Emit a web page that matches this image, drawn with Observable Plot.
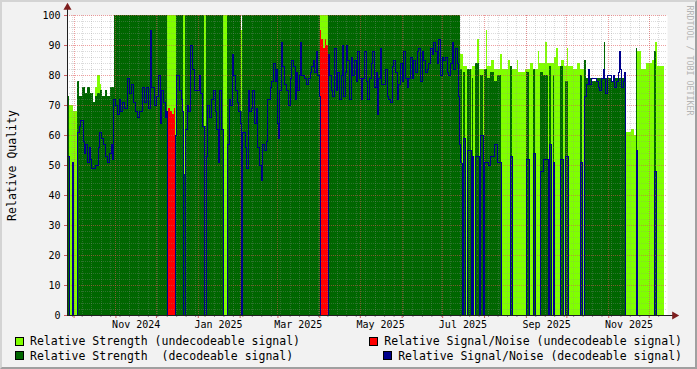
<!DOCTYPE html>
<html><head><meta charset="utf-8">
<script src="https://cdn.jsdelivr.net/npm/d3@7"></script>
<script src="https://cdn.jsdelivr.net/npm/@observablehq/plot@0.6"></script>
<style>
body{margin:0;background:#fff}
#wrap{position:relative;width:697px;height:369px;background:#f2f2f2;overflow:hidden;font-family:"DejaVu Sans Mono",monospace}
#shade{position:absolute;left:0;top:0;width:697px;height:369px;box-sizing:border-box;border-top:2px solid #d4d4d4;border-left:2px solid #d4d4d4;border-right:2px solid #a0a0a0;border-bottom:2px solid #a0a0a0;pointer-events:none}
#chart{position:absolute;left:0;top:0}
.lg{position:absolute;height:14px;line-height:14px;font-size:11.5px;color:#000;white-space:pre;display:flex;align-items:center}
.sw{display:inline-block;width:7px;height:7px;border:1px solid #000;margin-right:6px}
</style></head>
<body>
<div id="wrap"><div id="chart"></div><div id="legend"></div><div id="shade"></div></div>
<script>
// ---- time frame (left edge of the graph) and span in days ----
const t0 = "2024-09-26T03:00:00Z";
const spanDays = 444.4;

// ---- series: [days since t0, value] (step values) ----
const strengthUndecodeable = [[0,0],[1.5,70],[4.8,68],[7.4,0],[20.7,76],[22.4,80],[24.4,77],[25.4,0],
 [74.3,100],[81,0],[86.1,100],[87.6,0],[101.3,100],[102.7,0],[115.6,100],[118.5,0],[128.7,95],[129.6,0],
 [187.2,100],[193.1,0],
 [291.3,87],[293.6,83],[296.1,82],[299.8,83],[303.5,92],[305.2,82],[310.4,95],[311.3,83],[314,85],[316,82],
 [320.7,87],[322,82],[326.9,85],[328.1,82],[333.1,85],[334.3,81],[339.3,82],[343,84],[345,82],[348.7,88],[349.9,84],
 [354.3,91],[355.6,84],[361,86],[362.2,89],[363.5,83],[366,85],[368,83],[370.4,89],[371.3,83],[375,82],[378,84],[380,82],
 [383.2,0],[413.6,61],[418,62],[420,60],[421.3,88],[424.9,82],[428.6,84],[433.6,85],[435.5,91],[437,83],[442.2,0]];

const strengthDecodeable = [[0,73],[1.5,0],[3.7,51],[4.8,0],[7.4,78],[9.1,73],[11.1,76],[13.6,74],[15,76],[17,74],
 [19,71],[20.7,73],[22.4,74],[24.4,75],[26.1,73],[28.1,75],[29.9,73],[31.9,76],[34.6,100],
 [74.3,0],[80.2,55],[81,100],[86.1,47],[87.6,100],[101.3,63],[102.7,100],[115.6,0],[118.5,100],[128.7,68],[129.6,100],
 [187.2,0],[193.1,100],
 [291.3,82],[292.2,0],[293.1,81],[294.8,0],[296.3,82],[299,0],[299.8,79],[301,0],[302.2,84],[305.4,0],[305.9,80],[308.4,0],
 [308.9,82],[311,79],[313.3,81],[316.3,78],[318.7,80],[321.3,0],[328.1,83],[329.4,0],[340,81],[342,0],[345.4,82],[346.7,0],
 [350.4,81],[352.8,80],[356.1,0],[356.8,83],[358.5,0],[359.8,80],[361,0],[365.2,83],[367.2,0],[369.1,78],[371.3,0],
 [380,80],[381.3,0],[383,85],[384.2,79],[389,78],[392,79],[397.8,91],[398.5,79],[403,78],[406,79],[413.6,0],
 [421.3,89],[422.4,0],[434.8,88],[436.1,0],[442.2,0]];

const snrUndecodeable = [[0,0],[74.3,66],[75,69],[76.3,68],[78,67],[79,69],[80.2,0],
 [187.2,95],[188.4,92],[189.9,89],[190.9,92],[192.1,90],[193.1,0],[442.2,0]];

const snrDecodeable = [[0,53],[1.5,0],[3.7,51],[4.8,0],[7.4,61],[8.7,63],[9.9,65],[11.6,58],[12.6,54],[13.6,57],[14.8,51],
 [16.1,56],[17.3,52],[18,49],[21,50],[22.7,56],[23.9,61],[25.4,59],[26.7,57],[28.4,53],[29.6,51],[30.9,54],[32.4,57],[33.3,52],
 [34.3,72],[35.8,70],[37,67],[38.3,72],[39.5,68],[40.7,71],[42,69],[44.4,79],[45.7,74],[47.4,77],[48.7,71],[50.1,68],[51.9,66],
 [53.6,68],[55.6,76],[56.8,71],[58.5,76],[60,69],[61.5,95],[62.5,76],[64.2,70],[65.9,73],[67.4,80],[68.6,64],[69.9,75],[71.1,71],
 [72.4,66],[73.6,68],[74.3,0],[80.2,60],[81,80],[83.2,75],[84.7,72],[85.2,68],[85.7,54],[86.1,0],[87.6,62],[88.9,70],[89.6,68],
 [91.1,90],[92.6,82],[93.8,75],[97.6,80],[98.7,74],[100,63],[101.3,0],[102.7,53],[103.9,70],[105.2,66],[106.4,72],[107.9,75],
 [109.4,68],[110.6,62],[111.6,51],[112.8,75],[114.3,62],[115.6,0],[118.5,57],[119.8,72],[121,70],[122,87],[123.2,80],[124.4,75],
 [125.7,71],[126.9,68],[128.1,64],[128.7,0],[129.6,61],[131.6,56],[132.8,49],[134.1,75],[135,68],[136.3,69],[137.3,75],[138.5,64],
 [139.8,69],[141,56],[142.4,50],[143.5,45],[144.7,57],[145.9,55],[147.2,58],[148.4,72],[150.1,76],[151.3,78],[152.6,84],[153.9,78],
 [155.1,82],[155.8,64],[156.5,59],[157.3,75],[158.3,91],[159.5,83],[160.7,77],[162.4,75],[163.7,70],[165,79],[166.1,85],[167.4,83],
 [168.7,72],[169.9,81],[170.6,75],[171.9,80],[172.6,91],[173.6,80],[175.6,79],[177,77],[178.3,79],[179.8,81],[181,83],[182,85],
 [183,81],[184.2,88],[185.4,80],[186.4,73],[187.2,0],[193.1,87],[194.1,80],[195.3,75],[196.5,73],[197.8,89],[199,75],[200.2,81],
 [201.5,72],[202.7,80],[203.9,90],[204.7,73],[205.7,81],[206.4,90],[207.6,85],[208.9,72],[210.1,86],[211.3,80],[212.6,85],
 [213.8,78],[215,88],[216.3,79],[217.6,72],[218.7,79],[220,88],[221.3,78],[222.4,72],[223.7,79],[225,84],[226.1,88],[227.4,76],
 [228.7,81],[229.4,67],[230.4,79],[231.6,89],[232.8,77],[235.6,82],[236.8,73],[238,72],[239.3,71],[240.5,83],[241.7,85],[243,81],
 [244.2,72],[245.4,77],[246.7,84],[247.9,78],[249.1,88],[250.4,79],[251.6,76],[252.8,79],[254.1,86],[255.3,79],[256.5,85],
 [257.8,81],[259,88],[260.2,89],[261.5,78],[262.7,88],[263.9,85],[265.2,81],[266.4,82],[267.6,84],[268.9,89],[270.1,87],[271.4,91],
 [272.6,88],[273.8,84],[275,92],[276.3,80],[277.5,86],[278.7,85],[280,86],[281.3,81],[282.4,80],[283.7,84],[284.9,91],[286.1,82],
 [287.4,89],[288.7,84],[289.9,73],[290.6,57],[291.3,51],[292.2,0],[293.1,59],[294.8,0],[296.3,55],[299,0],[299.8,53],[301,0],
 [302.2,53],[305.4,0],[305.9,60],[308.4,0],[308.9,51],[311.9,50],[313.3,53],[316.3,57],[318.7,51],[321.3,0],[328.1,53],[329.4,0],
 [340,52],[342,0],[345.4,54],[346.7,0],[350.4,48],[352.8,52],[356.1,0],[356.8,57],[358.5,0],[359.8,51],[361,0],[365.2,52],[367.2,0],
 [369.1,53],[371.3,0],[380,51],[381.3,0],[383,73],[384.2,77],[385.7,82],[386.9,77],[388.1,79],[391.9,78],[393.1,76],[394.3,75],
 [395.6,79],[396.8,82],[398,79],[398.7,74],[400,80],[403,78],[404.2,80],[405.4,76],[406.7,78],[407.9,81],[408.7,88],[409.6,82],
 [410.4,76],[411.6,78],[412.8,81],[413.6,0],[421.3,55],[422.4,0],[434.8,48],[436.1,0],[442.2,0]];

// ---- axes / text ----
const yTicks = [0,10,20,30,40,50,60,70,80,90,100];
const xLabelDates = ["2024-11-16","2025-01-16","2025-03-16","2025-05-16","2025-07-16","2025-09-16","2025-11-16"];
const yAxisTitle = "Relative Quality";
const watermark = "RRDTOOL / TOBI OETIKER";
const seriesNames = ["Relative Strength (undecodeable signal)","Relative Signal/Noise (undecodeable signal)",
  "Relative Strength  (decodeable signal)","Relative Signal/Noise (decodeable signal)"];
const seriesColors = ["#80ff00","#ff0000","#006600","#00008b"];

// ---- build ----
const DAY = 864e5;
const T0 = new Date(t0);
const T1 = new Date(+T0 + spanDays * DAY);
const toDate = d => new Date(+T0 + d * DAY);
const rows = arr => arr.map(([d, v]) => ({date: toDate(d), v}));
const yMinor = d3.range(0, 101, 2).filter(v => v % 10 !== 0);
const weeks = d3.utcMonday.range(T0, T1);
const months = d3.utcMonth.range(T0, T1);
const labelDates = xLabelDates.map(s => new Date(s + "T00:00:00Z"));
const monthFmt = d3.utcFormat("%b %Y");
const stepOpts = {x: "date", y: "v", curve: "step-after", shapeRendering: "crispEdges"};
const MONO = "'DejaVu Sans Mono', monospace";

const chart = Plot.plot({
  width: 697, height: 332,
  marginLeft: 67, marginRight: 30, marginTop: 15, marginBottom: 17,
  style: {background: "transparent", fontFamily: MONO, fontSize: "10px", color: "#000", overflow: "visible"},
  x: {type: "utc", domain: [T0, T1]},
  y: {domain: [0, 100]},
  marks: [
    Plot.frame({fill: "#ffffff", stroke: "none"}),
    Plot.areaY(rows(strengthUndecodeable), {...stepOpts, fill: seriesColors[0]}),
    Plot.areaY(rows(strengthDecodeable), {...stepOpts, fill: seriesColors[2]}),
    Plot.areaY(rows(snrUndecodeable), {...stepOpts, fill: seriesColors[1]}),
    Plot.ruleY(yMinor, {stroke: "#8f8f8f", strokeOpacity: 0.32, strokeDasharray: "1,1", shapeRendering: "crispEdges"}),
    Plot.ruleX(weeks, {stroke: "#8f8f8f", strokeOpacity: 0.32, strokeDasharray: "1,1", shapeRendering: "crispEdges"}),
    Plot.ruleY(yTicks.filter(v => v > 0), {stroke: "#e05050", strokeOpacity: 0.55, strokeDasharray: "1,1", shapeRendering: "crispEdges"}),
    Plot.ruleX(months, {stroke: "#e05050", strokeOpacity: 0.55, strokeDasharray: "1,1", shapeRendering: "crispEdges"}),
    Plot.line(rows(snrDecodeable), {...stepOpts, stroke: seriesColors[3], strokeWidth: 1}),
    Plot.axisY(yTicks, {tickSize: 0, tickPadding: 7, fontSize: 10, label: null}),
    Plot.axisY(yTicks, {tickSize: 3, tickFormat: () => "", stroke: "#d06060", label: null}),
    Plot.axisX(labelDates, {tickSize: 0, tickPadding: 5, tickFormat: monthFmt, fontSize: 10, label: null}),
    Plot.axisX(months, {tickSize: 3, tickFormat: () => "", stroke: "#d06060", label: null}),
    Plot.axisX(weeks, {tickSize: 2, tickFormat: () => "", stroke: "#909090", label: null}),
    Plot.ruleY([0], {stroke: "#202020", insetRight: -6}),
    Plot.ruleX([T0], {stroke: "#202020", insetTop: -7}),
    Plot.dot([0], {frameAnchor: "top-left", dy: -8, symbol: "triangle", r: 3, fill: "#7f1f1f", stroke: "none"}),
    Plot.dot([0], {frameAnchor: "bottom-right", dx: 7, symbol: "triangle", rotate: 90, r: 3, fill: "#7f1f1f", stroke: "none"}),
    Plot.text([yAxisTitle], {frameAnchor: "left", dx: -55, rotate: -90, textAnchor: "middle", lineAnchor: "middle", fontSize: 11.5, fontFamily: MONO, fill: "#000"}),
    Plot.text([watermark], {frameAnchor: "top-right", dx: 22, dy: -10, rotate: 90, textAnchor: "start", lineAnchor: "middle", fontSize: 8.3, fontFamily: MONO, fill: "#b4b4b4"})
  ]
});
document.getElementById("chart").appendChild(chart);

// legend: left column left-aligned, right column right-aligned
const legend = document.getElementById("legend");
const pos = [{left: 15, top: 334}, {right: 15, top: 334}, {left: 15, top: 348.5}, {right: 15, top: 348.5}];
seriesNames.forEach((name, i) => {
  const div = document.createElement("div");
  div.className = "lg";
  div.style.top = pos[i].top + "px";
  if (pos[i].left != null) div.style.left = pos[i].left + "px"; else div.style.right = pos[i].right + "px";
  const sw = document.createElement("span");
  sw.className = "sw";
  sw.style.background = seriesColors[i];
  div.appendChild(sw);
  div.appendChild(document.createTextNode(name));
  legend.appendChild(div);
});
</script>
</body></html>
